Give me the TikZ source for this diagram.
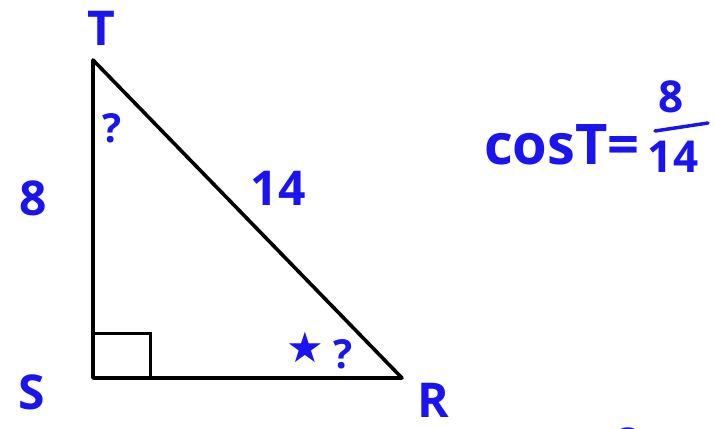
\documentclass[tikz,border=0pt]{standalone}
\usepackage{fontspec}
\setmainfont{Open Sans}
\newfontfamily\symfont{DejaVu Sans}
\usetikzlibrary{positioning,calc}
\definecolor{inkblue}{HTML}{1A14F0}
\tikzset{
  edge/.style={line width=3.6pt,draw=black,line cap=round,line join=round},
  ink/.style={text=inkblue,inner sep=0pt,font=\fontsize{48}{48}\selectfont\bfseries},
  smallink/.style={text=inkblue,inner sep=0pt,font=\fontsize{40}{40}\selectfont\bfseries}
}

\begin{document}
\begin{tikzpicture}[x=1pt,y=-1pt]
\useasboundingbox (0,0) rectangle (714,428);
% vertices
\coordinate (T) at (93,60);
\coordinate (S) at (93,378);
\coordinate (R) at (402,378);
\draw[edge] (T) -- (S) -- (R) -- cycle;
\draw[line width=3pt] ($(S)+(0,-45)$) -- ++(57,0) -- ++(0,45);
% vertex labels
\node[ink] (lblT) at (101,28) {T};
\node[ink] (lblS) at (32,392) {S};
\node[ink] (lblR) at (433,400) {R};
% side labels
\node[ink] (side8) at (33,198) {8};
\node[ink] (side14) at (278,188) {14};
% angle marks
\node[smallink] (qT) at (112,128) {?};
\node[smallink] (qR) at (343,354) {?};
\node[text=inkblue,font=\symfont\fontsize{42}{42}\selectfont,inner sep=0pt] (star) at (305,347) {★};
% cosine
\node[ink,font=\fontsize{56}{56}\selectfont\bfseries,anchor=base west] (cosT) at (484,164) {cosT=};
\node[ink,font=\fontsize{44}{44}\selectfont\bfseries] (num) at (671,97) {8};
\node[ink,font=\fontsize{44}{44}\selectfont\bfseries] (den) at (673,157) {14};
\draw[inkblue,line width=3.5pt,line cap=round] (655,131) -- (708,123);
% cut-off mark
\node[ink] (cut8) at (628,445) {8};
\end{tikzpicture}
\end{document}
